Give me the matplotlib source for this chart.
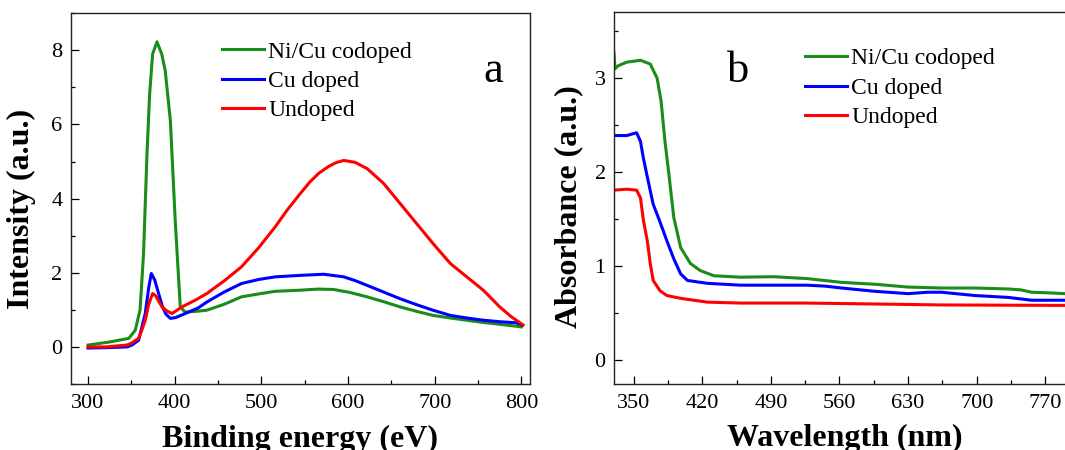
import matplotlib
matplotlib.use("Agg")
import matplotlib.pyplot as plt
from matplotlib.ticker import MultipleLocator

plt.rcParams['font.family'] = ['Liberation Serif', 'DejaVu Serif']

GREEN = '#1a8c1a'
BLUE = '#0000ff'
RED = '#ff0000'

labels = ["Ni/Cu codoped", "Cu doped", "Undoped"]

# (a) intensity vs binding energy
energy_codoped = [300, 324, 347, 354.5, 360, 364, 368, 371, 374.5, 379.5, 385, 389, 395, 400.6, 406.4,
                  412, 425, 437, 457, 477, 497, 516, 545, 565, 583, 602, 622, 641, 660, 679, 698,
                  718, 737, 756, 775, 790, 800]
int_codoped = [0.05, 0.13, 0.23, 0.45, 1.0, 2.5, 5.2, 6.8, 7.9, 8.23, 7.9, 7.46, 6.1, 3.4, 1.08,
               0.94, 0.96, 0.99, 1.15, 1.35, 1.43, 1.5, 1.53, 1.56, 1.55, 1.47, 1.35, 1.22, 1.08, 0.96, 0.85,
               0.78, 0.72, 0.66, 0.61, 0.57, 0.54]

energy_cu = [300, 320, 345, 350.7, 358.3, 366, 370, 373, 377, 381.4, 386, 390, 394.9, 401, 412,
             427, 437, 457, 477, 497, 516, 545, 572, 595, 608, 622, 641, 660, 679, 698, 718,
             737, 756, 775, 794, 800]
int_cu = [-0.03, -0.02, 0.0, 0.05, 0.18, 0.9, 1.6, 1.98, 1.8, 1.44, 1.08, 0.88, 0.77, 0.79, 0.9,
          1.05, 1.21, 1.48, 1.71, 1.82, 1.89, 1.93, 1.96, 1.89, 1.79, 1.66, 1.48, 1.30, 1.14, 0.99, 0.85,
          0.78, 0.72, 0.68, 0.65, 0.6]

energy_un = [300, 320, 345, 350, 358.3, 362, 366, 370, 374.5, 378, 385.3, 391, 396.8, 408.4, 423.7,
             437, 457, 477, 497, 516, 530, 545, 556, 566, 577, 586, 595, 608, 622, 641, 660, 679,
             698, 718, 737, 756, 775, 788, 802]
int_un = [0.0, 0.0, 0.05, 0.1, 0.23, 0.45, 0.72, 1.15, 1.44, 1.38, 1.08, 0.97, 0.9, 1.08, 1.26,
          1.44, 1.78, 2.16, 2.68, 3.24, 3.7, 4.14, 4.45, 4.68, 4.86, 4.97, 5.03, 4.98, 4.81, 4.41, 3.87, 3.33,
          2.79, 2.25, 1.89, 1.53, 1.08, 0.82, 0.59]

# (b) absorbance vs wavelength
wl_codoped = [330, 331, 334, 343, 357, 367, 374, 378, 382, 386, 391, 398, 408, 418, 432, 459, 493,
              527, 562, 596, 630, 664, 698, 732, 745, 756, 770, 790]
abs_codoped = [3.27, 3.1, 3.13, 3.17, 3.19, 3.15, 3.0, 2.76, 2.33, 1.98, 1.52, 1.2, 1.03, 0.955, 0.9, 0.885, 0.89,
               0.87, 0.83, 0.81, 0.78, 0.77, 0.77, 0.76, 0.75, 0.725, 0.72, 0.71]

wl_cu = [330, 343, 353, 357, 360, 364, 370, 377, 384, 391, 398, 405, 425, 459, 493, 527, 545, 562,
         596, 630, 650, 664, 698, 732, 756, 790]
abs_cu = [2.39, 2.39, 2.42, 2.33, 2.15, 1.95, 1.66, 1.47, 1.27, 1.08, 0.92, 0.85, 0.82, 0.80, 0.80, 0.80, 0.79, 0.77,
          0.735, 0.71, 0.725, 0.725, 0.69, 0.67, 0.64, 0.64]

wl_un = [330, 343, 353, 357, 360, 364, 367, 370, 377, 384, 398, 425, 459, 527, 596, 664, 790]
abs_un = [1.81, 1.82, 1.81, 1.73, 1.49, 1.27, 1.03, 0.85, 0.74, 0.69, 0.66, 0.62, 0.61, 0.61, 0.60, 0.59, 0.585]

fig = plt.figure(figsize=(10.65, 4.5), dpi=100)
ax1 = fig.add_axes([0.0664, 0.1467, 0.4313, 0.8238])
ax2 = fig.add_axes([0.5765, 0.1467, 0.4327, 0.826])

lw = 2.2
ax1.plot(energy_codoped, int_codoped, color=GREEN, lw=lw, label=labels[0])
ax1.plot(energy_cu, int_cu, color=BLUE, lw=lw, label=labels[1])
ax1.plot(energy_un, int_un, color=RED, lw=lw, label=labels[2])

ax2.plot(wl_codoped, abs_codoped, color=GREEN, lw=lw, label=labels[0])
ax2.plot(wl_cu, abs_cu, color=BLUE, lw=lw, label=labels[1])
ax2.plot(wl_un, abs_un, color=RED, lw=lw, label=labels[2])

ax1.set_xlim(280, 810)
ax1.set_ylim(-1, 9)
ax1.xaxis.set_major_locator(MultipleLocator(100))
ax1.xaxis.set_minor_locator(MultipleLocator(50))
ax1.yaxis.set_major_locator(MultipleLocator(2))
ax1.yaxis.set_minor_locator(MultipleLocator(1))

ax2.set_xlim(330, 800)
ax2.set_ylim(-0.25, 3.7)
ax2.set_xticks([350, 420, 490, 560, 630, 700, 770])
ax2.xaxis.set_minor_locator(MultipleLocator(35))
ax2.yaxis.set_major_locator(MultipleLocator(1))
ax2.yaxis.set_minor_locator(MultipleLocator(0.5))

for ax in (ax1, ax2):
    ax.tick_params(which='both', direction='in', top=False, right=False, width=0.9)
    ax.tick_params(which='major', length=5.8, labelsize=16)
    ax.tick_params(which='minor', length=3)
    ax.tick_params(axis='x', which='major', pad=7.5)
    ax.tick_params(axis='y', which='major', pad=6)
    for s in ax.spines.values():
        s.set_linewidth(1.0)
        s.set_color('#222222')

ax1.set_xlabel("Binding energy (eV)", fontsize=23, fontweight='bold')
ax1.set_ylabel("Intensity (a.u.)", fontsize=23, fontweight='bold')
ax2.set_xlabel("Wavelength (nm)", fontsize=23, fontweight='bold')
ax2.set_ylabel("Absorbance (a.u.)", fontsize=23, fontweight='bold')
ax1.xaxis.set_label_coords(0.5, -0.11)
ax2.xaxis.set_label_coords(0.5, -0.107)
ax1.yaxis.set_label_coords(-0.075, 0.472)
ax2.yaxis.set_label_coords(-0.066, 0.4775)

leg_kw = dict(loc='upper left', frameon=False, fontsize=17, borderpad=0, borderaxespad=0,
              handlelength=1.77, handletextpad=0.2, labelspacing=0.33)
ax1.legend(bbox_to_anchor=(0.3288, 0.925), **leg_kw)
ax2.legend(bbox_to_anchor=(0.4145, 0.904), **leg_kw)

ax1.text(0.919, 0.8155, "a", transform=ax1.transAxes, fontsize=32, ha='center', va='baseline')
ax2.text(0.269, 0.813, "b", transform=ax2.transAxes, fontsize=32, ha='center', va='baseline')

fig.savefig("out.png", dpi=100)
